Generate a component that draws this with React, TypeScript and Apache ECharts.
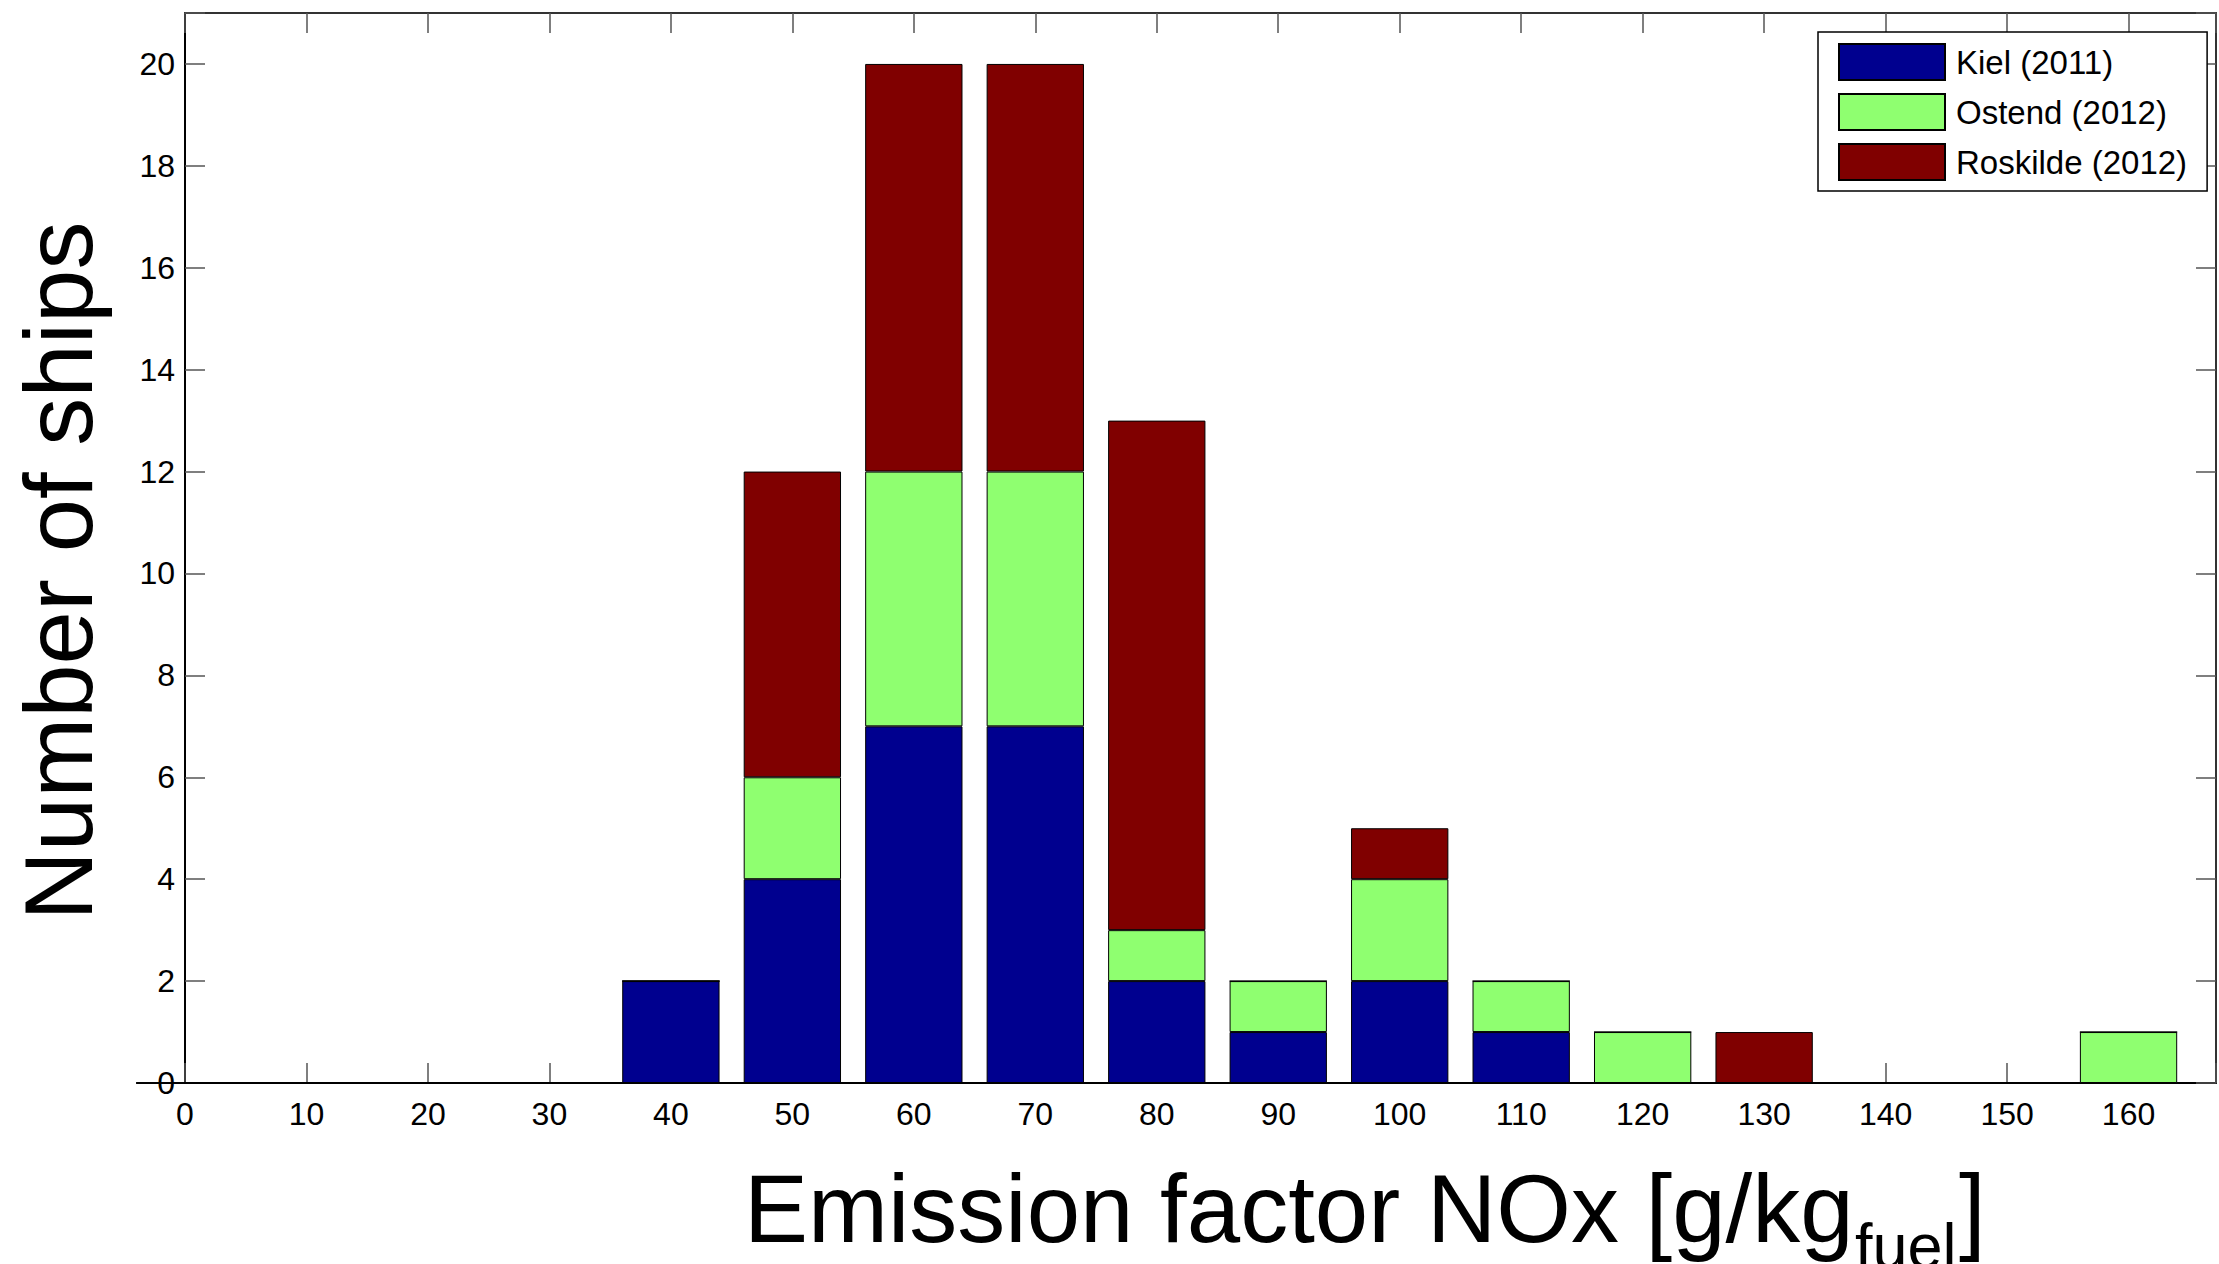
import React, { useEffect, useRef } from "react";
import * as echarts from "echarts";

const binCenters = [0, 10, 20, 30, 40, 50, 60, 70, 80, 90, 100, 110, 120, 130, 140, 150, 160];
const kiel = [0, 0, 0, 0, 2, 4, 7, 7, 2, 1, 2, 1, 0, 0, 0, 0, 0];
const ostend = [0, 0, 0, 0, 0, 2, 5, 5, 1, 1, 2, 1, 1, 0, 0, 0, 1];
const roskilde = [0, 0, 0, 0, 0, 6, 8, 8, 10, 0, 1, 0, 0, 1, 0, 0, 0];
const seriesNames = ["Kiel (2011)", "Ostend (2012)", "Roskilde (2012)"];
const seriesColors = ["#00008F", "#8FFF70", "#800000"];

const FONT = '"Liberation Sans", Arial, sans-serif';

export default function App() {
  const ref = useRef<HTMLDivElement>(null);

  useEffect(() => {
    if (!ref.current) return;
    const chart = echarts.init(ref.current, null, { renderer: "svg" });
    const xMax = 167.2;
    const gridLeft = 185;
    const gridRight = 0;
    const plotW = 2219 - gridLeft - gridRight;
    const barW = (plotW / xMax) * 8;

    const tickStyle = { show: true, inside: true, length: 20, lineStyle: { color: "#555", width: 1.5 } };
    const values = [kiel, ostend, roskilde];

    chart.setOption({
      animation: false,
      backgroundColor: "#fff",
      grid: { left: gridLeft, right: gridRight, top: 13, bottom: 181, containLabel: false },
      legend: {
        orient: "vertical",
        left: 1818,
        top: 32,
        padding: [11, 20, 10, 20],
        itemWidth: 106,
        itemHeight: 36,
        itemGap: 12,
        icon: "rect",
        borderColor: "#000",
        borderWidth: 1.5,
        borderRadius: 0,
        backgroundColor: "#fff",
        data: seriesNames,
        textStyle: { fontSize: 33, color: "#000", fontFamily: FONT, padding: [0, 0, 0, 6] },
      },
      xAxis: [
        {
          type: "value",
          position: "bottom",
          min: 0,
          max: xMax,
          interval: 10,
          axisLine: { show: true, onZero: false, lineStyle: { color: "#000", width: 2 } },
          axisTick: tickStyle,
          splitLine: { show: false },
          axisLabel: {
            fontSize: 32,
            color: "#000",
            fontFamily: FONT,
            margin: 15,
            formatter: (v: number) => (Math.abs(v % 10) < 1e-6 ? String(v) : ""),
          },
        },
        {
          type: "value",
          position: "top",
          min: 0,
          max: xMax,
          interval: 10,
          axisLine: { show: true, onZero: false, lineStyle: { color: "#333", width: 2 } },
          axisTick: tickStyle,
          splitLine: { show: false },
          axisLabel: { show: false },
        },
      ],
      yAxis: [
        {
          type: "value",
          position: "left",
          min: 0,
          max: 21,
          interval: 2,
          axisLine: { show: true, onZero: false, lineStyle: { color: "#000", width: 2 } },
          axisTick: tickStyle,
          splitLine: { show: false },
          axisLabel: {
            fontSize: 32,
            color: "#000",
            fontFamily: FONT,
            margin: 10,
            formatter: (v: number) => (v % 2 === 0 && v <= 20 ? String(v) : ""),
          },
        },
        {
          type: "value",
          position: "right",
          min: 0,
          max: 21,
          interval: 2,
          axisLine: { show: true, onZero: false, lineStyle: { color: "#333", width: 2 } },
          axisTick: tickStyle,
          splitLine: { show: false },
          axisLabel: { show: false },
        },
      ],
      series: seriesNames.map((name, i) => ({
        name,
        type: "bar",
        stack: "total",
        xAxisIndex: 0,
        yAxisIndex: 0,
        barWidth: barW,
        itemStyle: { color: seriesColors[i], borderColor: "#000", borderWidth: 1 },
        emphasis: { disabled: true },
        dimensions: ["count", "bin"],
        encode: { x: 1, y: 0 },
        data: binCenters.map((x, j) => [values[i][j], x]),
      })),
      graphic: [
        {
          type: "text",
          x: 58,
          y: 571,
          rotation: Math.PI / 2,
          style: {
            text: "Number of ships",
            fontSize: 96,
            fontFamily: FONT,
            fill: "#000",
            align: "center",
            verticalAlign: "middle",
          },
        },
        {
          type: "text",
          x: 744,
          y: 1208,
          style: {
            text: "Emission factor NOx [g/kg",
            fontSize: 96,
            fontFamily: FONT,
            fill: "#000",
            align: "left",
            verticalAlign: "middle",
          },
        },
        {
          type: "text",
          x: 1855,
          y: 1246,
          style: {
            text: "fuel",
            fontSize: 63,
            fontFamily: FONT,
            fill: "#000",
            align: "left",
            verticalAlign: "middle",
          },
        },
        {
          type: "text",
          x: 1959,
          y: 1208,
          style: {
            text: "]",
            fontSize: 96,
            fontFamily: FONT,
            fill: "#000",
            align: "left",
            verticalAlign: "middle",
          },
        },
      ],
    });

    return () => chart.dispose();
  }, []);

  return (
    <div
      ref={ref}
      style={{ position: "absolute", left: 0, top: 0, width: 2219, height: 1264, background: "#fff" }}
    />
  );
}
